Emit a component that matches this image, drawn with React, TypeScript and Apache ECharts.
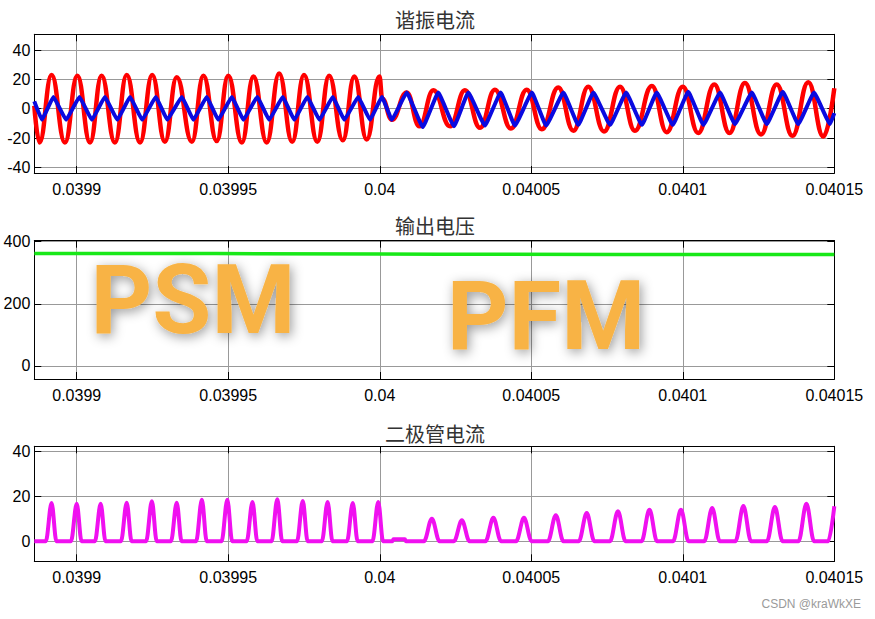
import React, { useEffect, useRef } from "react";
import * as echarts from "echarts";

// ---- axis ranges (seconds / amps / volts) ----
const X_MIN = 0.039886;
const X_MAX = 0.04015;
const X_STEP = 0.00005;

const Y1_RANGE = [-43.8, 50.7];
const Y2_RANGE = [-42, 403];
const Y3_RANGE = [-8.9, 42.1];
const Y_STEPS = [20, 200, 20];

const TITLES = ["谐振电流", "输出电压", "二极管电流"];

// ---- 谐振电流 (red), times in microseconds ----
const redT = [39886.0, 39887.7, 39891.7, 39896.1, 39900.2, 39904.4, 39908.2, 39912.6, 39916.5, 39920.9,
  39924.9, 39929.1, 39933.0, 39938.0, 39941.8, 39946.2, 39950.0, 39954.5, 39958.3, 39962.7,
  39966.8, 39971.1, 39975.0, 39979.4, 39983.3, 39987.8, 39991.6, 39995.7, 39999.9, 40000.8,
  40004.0, 40008.9, 40013.1, 40017.7, 40023.2, 40028.1, 40033.1, 40038.0, 40043.3, 40048.5,
  40053.5, 40058.9, 40063.9, 40068.8, 40074.0, 40079.3, 40084.2, 40089.8, 40094.7, 40100.0,
  40105.1, 40110.4, 40115.4, 40120.5, 40125.8, 40131.0, 40136.2, 40141.4, 40146.4, 40150.0];
const redV = [2, -23, 23, -23, 22.5, -23, 22.5, -23, 23, -23,
  23, -22.5, 21.5, -22.5, 22.5, -22, 22.5, -23, 22, -23,
  24, -22.5, 23, -22.5, 22.5, -21.5, 22, -21, 22, 7,
  -7.5, 11, -12, 12.5, -12, 12.5, -13, 13, -13.5, 13,
  -14, 14.5, -15, 15, -15.5, 15, -15, 15.5, -16, 15,
  -16.5, 16.5, -16.5, 17.5, -17.5, 16.5, -18.5, 18, -19, 14];

// ---- 励磁电流 (blue) ----
const blueT = [39886.0, 39888.5, 39892.3, 39896.5, 39900.9, 39905.0, 39909.3, 39913.4, 39917.6, 39921.6,
  39926.1, 39929.9, 39934.7, 39938.5, 39942.9, 39946.7, 39951.2, 39955.0, 39959.6, 39963.5,
  39968.0, 39971.8, 39976.1, 39980.1, 39984.5, 39988.3, 39992.9, 39996.8, 40000.7, 40004.0,
  40008.9, 40014.2, 40019.3, 40024.5, 40029.2, 40034.7, 40039.9, 40044.6, 40050.2, 40054.9,
  40060.6, 40065.5, 40070.5, 40076.0, 40081.3, 40086.5, 40091.4, 40096.7, 40101.8, 40106.8,
  40112.3, 40117.2, 40122.8, 40127.7, 40133.0, 40138.1, 40143.3, 40148.6, 40150.0];
const blueV = [5, -7.5, 8, -7.5, 8, -7.5, 8, -7.5, 8, -7.5,
  8, -7.5, 8, -7.5, 8, -7.5, 8, -7.5, 8, -7.5,
  8, -7.5, 8, -7.5, 8, -7.5, 8, -7.5, 8, -7.5,
  11, -12.5, 11, -12, 11, -11.5, 11, -11.5, 11, -11.5,
  11, -11, 11, -11, 11, -11, 11, -11, 11.5, -11,
  11, -10.5, 11, -10.5, 11.5, -10.5, 11, -10.5, -3];

// ---- 输出电压 (green) ----
const greenT = [39886.0, 39946.0, 40000.0, 40020.0, 40080.0, 40150.0];
const greenV = [361.5, 361.5, 360.5, 359.5, 358.5, 358.5];

// ---- 二极管电流 (magenta) ----
const diodeT = [39886.0,
  39889.8, 39891.7, 39893.3, 39898.1, 39900.0, 39901.6, 39906.0, 39907.9, 39909.5,
  39914.6, 39916.5, 39918.1, 39922.9, 39924.8, 39926.4, 39931.1, 39933.0, 39934.6,
  39939.4, 39941.3, 39942.9, 39947.8, 39949.7, 39951.3, 39956.1, 39958.0, 39959.6,
  39964.3, 39966.2, 39967.8, 39972.7, 39974.6, 39976.2, 39980.9, 39982.8, 39984.4,
  39989.2, 39991.1, 39992.7, 39997.6, 39999.5, 40001.1,
  40004.2, 40004.5, 40008.3, 40008.6,
  40014.6, 40017.2, 40019.7, 40024.5, 40027.1, 40029.6, 40034.9, 40037.5, 40040.0,
  40045.0, 40047.6, 40050.1, 40055.5, 40058.1, 40060.6, 40065.7, 40068.3, 40070.8,
  40076.0, 40078.6, 40081.1, 40086.4, 40089.0, 40091.5, 40096.8, 40099.4, 40101.9,
  40107.1, 40109.7, 40112.2, 40117.4, 40120.0, 40122.5, 40127.8, 40130.4, 40132.9,
  40138.2, 40140.8, 40143.3, 40148.0, 40150.0];
const diodeV = [0,
  0, 16.9, 0, 0, 16.6, 0, 0, 16.6, 0,
  0, 17.1, 0, 0, 17.7, 0, 0, 17.1, 0,
  0, 18.4, 0, 0, 18.4, 0, 0, 17.4, 0,
  0, 18.6, 0, 0, 17.8, 0, 0, 17.4, 0,
  0, 16.9, 0, 0, 17.4, 0,
  0, 0.9, 0.9, 0,
  0, 10.0, 0, 0, 9.3, 0, 0, 10.4, 0,
  0, 10.4, 0, 0, 11.5, 0, 0, 12.5, 0,
  0, 13.3, 0, 0, 14.0, 0, 0, 14.0, 0,
  0, 14.7, 0, 0, 15.6, 0, 0, 15.2, 0,
  0, 16.6, 0, 0, 15.5];

const toPairs = (t: number[], v: number[]) => t.map((ti, i) => [ti / 1e6, v[i]]);

const LABEL_FONT = "'Liberation Sans', Arial, sans-serif";

export default function App() {
  const ref = useRef<HTMLDivElement>(null);

  useEffect(() => {
    document.body.style.margin = "0";
    if (!ref.current) return;
    const chart = echarts.init(ref.current, undefined, { renderer: "svg" });

    const grids = [
      { left: 34.3, top: 34.3, width: 800, height: 138.7 },
      { left: 34.3, top: 240.7, width: 800, height: 138.3 },
      { left: 34.3, top: 446.3, width: 800, height: 115 },
    ];
    const yRanges = [Y1_RANGE, Y2_RANGE, Y3_RANGE];

    const fmtX = (v: number) => String(parseFloat(v.toPrecision(7)));
    const xAxes: any[] = [];
    const yAxes: any[] = [];
    grids.forEach((_, gi) => {
      [true, false].forEach((primary) => {
        xAxes.push({
          type: "value",
          gridIndex: gi,
          position: primary ? "bottom" : "top",
          min: X_MIN,
          max: X_MAX,
          minInterval: X_STEP,
          maxInterval: X_STEP,
          axisLine: { show: true, onZero: false, lineStyle: { color: "#000", width: 1 } },
          axisTick: { show: true, inside: true, length: 7, lineStyle: { color: "#000", width: 1 } },
          axisLabel: {
            show: primary,
            margin: 8,
            fontSize: 16,
            fontFamily: LABEL_FONT,
            color: "#000",
            showMinLabel: false,
            showMaxLabel: true,
            formatter: fmtX,
          },
          splitLine: { show: primary, lineStyle: { color: "#999", width: 1 } },
        });
        yAxes.push({
          type: "value",
          gridIndex: gi,
          position: primary ? "left" : "right",
          min: yRanges[gi][0],
          max: yRanges[gi][1],
          minInterval: Y_STEPS[gi],
          maxInterval: Y_STEPS[gi],
          axisLine: { show: true, onZero: false, lineStyle: { color: "#000", width: 1 } },
          axisTick: { show: true, inside: true, length: 7, lineStyle: { color: "#000", width: 1 } },
          axisLabel: {
            show: primary,
            margin: 4,
            fontSize: 16,
            fontFamily: LABEL_FONT,
            color: "#000",
            showMinLabel: false,
            showMaxLabel: false,
            formatter: (v: number) => String(Math.round(v)),
          },
          splitLine: { show: primary, lineStyle: { color: "#999", width: 1 } },
        });
      });
    });

    const titleY = [19, 225, 433];
    const graphics: any[] = TITLES.map((t, i) => ({
      type: "text",
      x: 435,
      y: titleY[i],
      style: {
        text: t,
        fontSize: 20,
        fontFamily: "'Noto Sans CJK SC', sans-serif",
        fill: "#333",
        align: "center",
        verticalAlign: "middle",
        textAlign: "center",
        textVerticalAlign: "middle",
      },
      z: 10,
    }));
    const bigText = (text: string, x: number, y: number) => ({
      type: "text",
      x,
      y,
      z: 100,
      style: {
        text,
        fontSize: 96,
        fontWeight: "bold",
        fontFamily: "Roboto, 'Liberation Sans', sans-serif",
        fill: "#F8B345",
        align: "center",
        verticalAlign: "middle",
        textAlign: "center",
        textVerticalAlign: "middle",
        textShadowBlur: 12,
        textShadowColor: "rgba(0,0,0,0.4)",
        textShadowOffsetX: 2,
        textShadowOffsetY: 3,
      },
    });
    graphics.push(bigText("PSM", 193, 300));
    graphics.push(bigText("PFM", 546, 316));
    graphics.push({
      type: "text",
      x: 861,
      y: 604,
      style: {
        text: "CSDN @kraWkXE",
        fontSize: 12,
        fontFamily: LABEL_FONT,
        fill: "#9a9a9a",
        align: "right",
        verticalAlign: "middle",
        textAlign: "right",
        textVerticalAlign: "middle",
      },
    });

    chart.setOption({
      animation: false,
      backgroundColor: "#fff",
      grid: grids.map((g) => ({ ...g, containLabel: false, outerBoundsMode: "none" })),
      xAxis: xAxes,
      yAxis: yAxes,
      graphic: graphics,
      series: [
        {
          type: "line",
          name: "谐振电流",
          xAxisIndex: 0,
          yAxisIndex: 0,
          data: toPairs(redT, redV),
          symbol: "none",
          smooth: 0.45,
          smoothMonotone: "x",
          lineStyle: { color: "#ff0000", width: 4.5 },
          z: 2,
        },
        {
          type: "line",
          name: "励磁电流",
          xAxisIndex: 0,
          yAxisIndex: 0,
          data: toPairs(blueT, blueV),
          symbol: "none",
          smooth: 0.1,
          smoothMonotone: "x",
          lineStyle: { color: "#0a0ae0", width: 4 },
          z: 3,
        },
        {
          type: "line",
          name: "输出电压",
          xAxisIndex: 2,
          yAxisIndex: 2,
          data: toPairs(greenT, greenV),
          symbol: "none",
          lineStyle: { color: "#18e818", width: 3.5 },
          z: 2,
        },
        {
          type: "line",
          name: "二极管电流",
          xAxisIndex: 4,
          yAxisIndex: 4,
          data: toPairs(diodeT, diodeV),
          symbol: "none",
          smooth: 0.35,
          smoothMonotone: "x",
          lineStyle: { color: "#f010f0", width: 4 },
          z: 2,
        },
      ],
    });

    return () => chart.dispose();
  }, []);

  return <div ref={ref} style={{ width: 875, height: 619, position: "absolute", left: 0, top: 0 }} />;
}
